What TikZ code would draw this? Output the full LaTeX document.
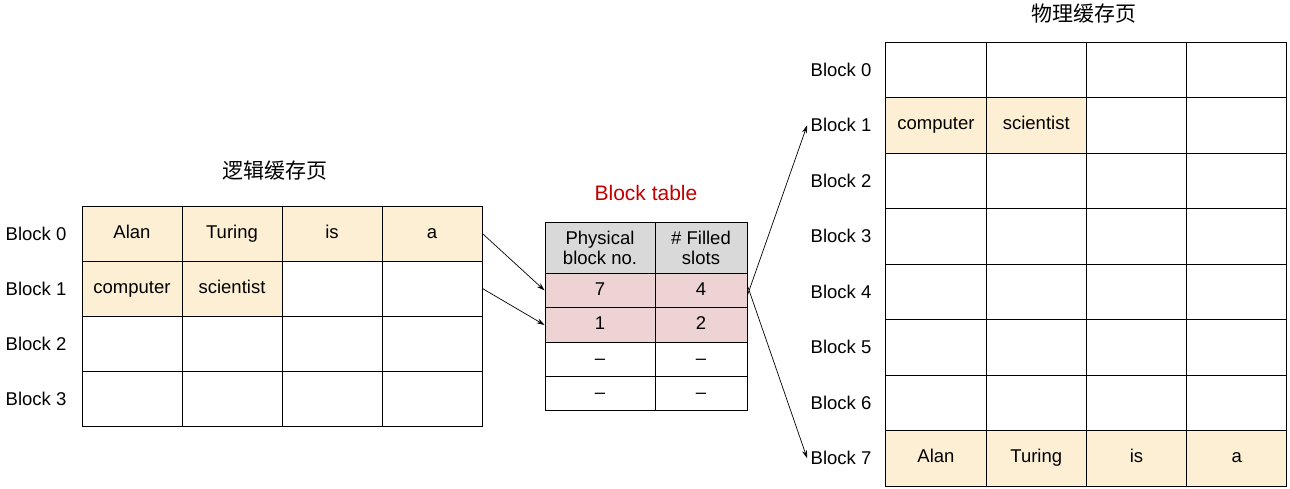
\documentclass[tikz,border=0pt]{standalone}
\usepackage{fontspec}
\setmainfont{Liberation Sans}
\newfontfamily\cjk{Noto Sans CJK SC}
\usetikzlibrary{arrows.meta}
\definecolor{yel}{HTML}{FCEFD4}
\definecolor{pnk}{HTML}{EDD3D3}
\definecolor{hdr}{HTML}{D9D9D9}
\definecolor{ttl}{HTML}{C00000}
\begin{document}
\begin{tikzpicture}[x=1pt,y=-1pt,
  cell/.style={draw,line width=0.8pt,inner sep=0pt,font=\fontsize{18.5}{20}\selectfont,text height=13pt,text depth=4pt},
  lbl/.style={font=\fontsize{18.5}{20}\selectfont},
  arr/.style={-{Stealth[length=8pt,width=5pt]},line width=0.7pt}]
\useasboundingbox (0,0) rectangle (1290,489);
% left grid
\foreach \r in {0,...,3}{
  \node[lbl] (LL\r) at (36,{233.5+55*\r}) {Block \r};
  \foreach \c in {0,...,3}{
    \node[cell,minimum width=100pt,minimum height=55pt] (L\r\c) at ({132+100*\c},{233.5+55*\r}) {};
  }}
\foreach \c/\t in {0/Alan,1/Turing,2/is,3/a}{
  \node[cell,fill=yel,minimum width=100pt,minimum height=55pt] at (L0\c) {\t};}
\node[cell,fill=yel,minimum width=100pt,minimum height=55pt] at (L10) {computer};
\node[cell,fill=yel,minimum width=100pt,minimum height=55pt] at (L11) {scientist};
\node[font=\cjk\fontsize{21}{24}\selectfont] (LT) at (275,171) {逻辑缓存页};
% block table
\node[font=\fontsize{21}{24}\selectfont,text=ttl] (BT) at (646,193) {Block table};
\node[cell,fill=hdr,minimum width=110pt,minimum height=51pt,align=center,font=\fontsize{18.5}{20}\selectfont,text height=,text depth=] (H0) at (600,247.5) {Physical\\block no.};
\node[cell,fill=hdr,minimum width=92pt,minimum height=51pt,align=center,font=\fontsize{18.5}{20}\selectfont,text height=,text depth=] (H1) at (701,247.5) {\# Filled\\slots};
\foreach \r/\y/\a/\b/\f in {1/290.5/7/4/pnk,2/325/1/2/pnk,3/359.5/–/–/white,4/393.5/–/–/white}{
  \node[cell,fill=\f,minimum width=110pt,minimum height=34.5pt] (T\r0) at (600,\y) {\a};
  \node[cell,fill=\f,minimum width=92pt,minimum height=34.5pt] (T\r1) at (701,\y) {\b};}
% right grid
\foreach \r in {0,...,7}{
  \node[lbl] (RL\r) at (841,{69.75+55.5*\r}) {Block \r};
  \foreach \c in {0,...,3}{
    \node[cell,minimum width=100.25pt,minimum height=55.5pt] (R\r\c) at ({936+100.25*\c},{69.75+55.5*\r}) {};
  }}
\node[cell,fill=yel,minimum width=100.25pt,minimum height=55.5pt] at (R10) {computer};
\node[cell,fill=yel,minimum width=100.25pt,minimum height=55.5pt] at (R11) {scientist};
\foreach \c/\t in {0/Alan,1/Turing,2/is,3/a}{
  \node[cell,fill=yel,minimum width=100.25pt,minimum height=55.5pt] at (R7\c) {\t};}
\node[font=\cjk\fontsize{21}{24}\selectfont] (RT) at (1084,14) {物理缓存页};
% arrows
\draw[arr] (L03.east) -- (T10.west);
\draw[arr] (L13.east) -- (T20.west);
\draw[arr] ([yshift=12pt]T21.north east) -- (RL1.west);
\draw[arr] ([yshift=5pt]T11.east) -- (RL7.west);
\end{tikzpicture}
\end{document}
